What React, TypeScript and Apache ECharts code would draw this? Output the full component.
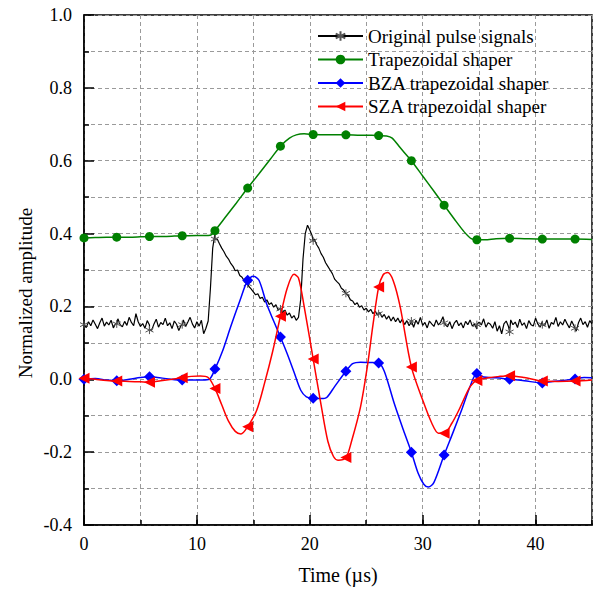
import React, { useEffect, useRef } from "react";
import * as echarts from "echarts";

const FONT = '"Liberation Serif", "Times New Roman", serif';

// Shared marker times (µs)
const markerT = [0, 2.9, 5.8, 8.7, 11.6, 14.5, 17.4, 20.3, 23.2, 26.1, 29.0, 31.9, 34.8, 37.7, 40.6, 43.5];

// Original pulse signal, sampled every signalDt µs from 0 to 45
const signalDt = 0.2;
const signalY = [
  0.150, 0.142, 0.158, 0.147, 0.163, 0.151, 0.139, 0.155, 0.168, 0.146,
  0.157, 0.149, 0.162, 0.141, 0.153, 0.166, 0.150, 0.144, 0.159, 0.148,
  0.170, 0.156, 0.147, 0.180, 0.158, 0.145, 0.153, 0.140, 0.161, 0.149,
  0.135, 0.152, 0.165, 0.143, 0.156, 0.150, 0.168, 0.147, 0.155, 0.139,
  0.160, 0.151, 0.134, 0.148, 0.163, 0.145, 0.157, 0.170, 0.152, 0.141,
  0.158, 0.146, 0.162, 0.125, 0.140,
  0.160, 0.250, 0.360, 0.400, 0.385, 0.372, 0.360, 0.350, 0.338, 0.330,
  0.318, 0.310, 0.298, 0.300, 0.285, 0.280, 0.270, 0.265, 0.255, 0.248,
  0.240, 0.232, 0.235, 0.222, 0.225, 0.212, 0.218, 0.205, 0.210, 0.198,
  0.205, 0.190, 0.196, 0.183, 0.190, 0.176, 0.182, 0.168, 0.175, 0.162,
  0.170, 0.220, 0.330, 0.400, 0.423, 0.410, 0.395, 0.385, 0.370, 0.360,
  0.345, 0.335, 0.320, 0.310, 0.300, 0.290, 0.275, 0.268, 0.262, 0.250,
  0.245, 0.236, 0.230, 0.218, 0.215, 0.205, 0.210, 0.198, 0.202, 0.190,
  0.195, 0.185, 0.192, 0.180, 0.187, 0.176, 0.183, 0.170, 0.178, 0.165,
  0.174, 0.160, 0.171, 0.158, 0.168, 0.155,
  0.165, 0.150, 0.161, 0.147, 0.158, 0.143, 0.162, 0.151, 0.170, 0.148,
  0.156, 0.141, 0.160, 0.152, 0.145, 0.163, 0.149, 0.157, 0.172, 0.150,
  0.144, 0.158, 0.139, 0.154, 0.162, 0.147, 0.155, 0.141, 0.159, 0.150,
  0.163, 0.146, 0.152, 0.138, 0.157, 0.149, 0.166, 0.143, 0.155, 0.151,
  0.140, 0.158, 0.132, 0.147, 0.125, 0.152, 0.160, 0.145, 0.163, 0.150,
  0.157, 0.142, 0.165, 0.148, 0.155, 0.139, 0.161, 0.150, 0.146, 0.168,
  0.152, 0.143, 0.159, 0.147, 0.163, 0.140, 0.156, 0.151, 0.170, 0.145,
  0.158, 0.149, 0.165, 0.152, 0.141, 0.160, 0.147, 0.132, 0.155, 0.168,
  0.150, 0.158, 0.143, 0.161, 0.152,
];
const signalMarkerY = [0.150, 0.152, 0.135, 0.150, 0.385, 0.262, 0.193, 0.380, 0.236, 0.180, 0.160, 0.155, 0.150, 0.130, 0.150, 0.140];

// Trapezoidal shaper
const trapT = [1, 2, 4, 5, 7, 8, 10, 11, 11.3, 12.5, 13.5, 15.5, 16.5, 18.2, 18.8, 19.5, 21.5, 22.5, 24.5, 25.5, 26.8, 27.3, 28, 30, 31, 32.8, 33.7, 34.3, 35.5, 36.5, 39, 42, 45];
const trapY = [0.389, 0.390, 0.390, 0.391, 0.392, 0.393, 0.395, 0.395, 0.397, 0.444, 0.484, 0.564, 0.604, 0.662, 0.671, 0.674, 0.671, 0.671, 0.670, 0.670, 0.668, 0.662, 0.636, 0.558, 0.516, 0.440, 0.404, 0.386, 0.383, 0.386, 0.386, 0.385, 0.384];
const trapMarkerY = [0.388, 0.390, 0.392, 0.394, 0.408, 0.525, 0.640, 0.672, 0.671, 0.669, 0.600, 0.478, 0.383, 0.387, 0.385, 0.385];

// BZA trapezoidal shaper
const bzaT = [1, 2, 4, 5, 6.5, 7.5, 9.5, 10.5, 11.1, 12.3, 13, 13.8, 15, 15.5, 16.2, 16.8, 18, 18.6, 19.2, 19.7, 21, 21.5, 22.2, 23.8, 24.5, 25.3, 26.6, 27.5, 28.3, 29.6, 30.1, 30.5, 31, 32.7, 33.5, 34.2, 35.4, 36.5, 39, 41.5, 42.5, 44.3, 45];
const bzaY = [0.002, -0.002, 0.000, 0.005, 0.005, 0.001, -0.002, -0.002, 0.000, 0.080, 0.145, 0.215, 0.283, 0.272, 0.205, 0.160, 0.070, 0.020, -0.030, -0.048, -0.053, -0.050, -0.020, 0.043, 0.047, 0.046, 0.022, -0.068, -0.140, -0.258, -0.288, -0.296, -0.283, -0.145, -0.080, -0.020, 0.006, 0.004, -0.004, -0.006, -0.003, 0.005, 0.004];
const bzaMarkerY = [0.000, -0.004, 0.007, -0.002, 0.028, 0.272, 0.116, -0.052, 0.022, 0.045, -0.200, -0.208, 0.016, 0.000, -0.010, 0.001];

// SZA trapezoidal shaper
const szaT = [1, 2, 4, 5, 6.8, 7.8, 9.5, 10.3, 11.0, 12.2, 12.8, 13.4, 13.9, 15.3, 16, 16.7, 18, 18.6, 19, 19.5, 21, 21.6, 22.1, 22.5, 23.7, 24.5, 25.1, 25.6, 26.5, 26.9, 27.4, 28, 30, 30.8, 31.4, 32.6, 33.2, 34.2, 35.8, 36.8, 39, 42, 45];
const szaY = [0.000, -0.003, -0.006, -0.007, -0.004, 0.000, 0.008, 0.009, 0.005, -0.070, -0.115, -0.143, -0.150, -0.085, -0.010, 0.075, 0.250, 0.288, 0.278, 0.200, -0.070, -0.170, -0.212, -0.222, -0.170, -0.075, 0.035, 0.150, 0.287, 0.293, 0.270, 0.200, -0.057, -0.120, -0.148, -0.120, -0.085, -0.020, 0.004, 0.008, 0.005, -0.006, -0.002];
const szaMarkerY = [0.003, -0.005, -0.008, 0.004, -0.025, -0.130, 0.173, 0.056, -0.215, 0.253, 0.034, -0.148, -0.003, 0.010, -0.005, -0.005];

const seriesNames = ["Original pulse signals", "Trapezoidal shaper", "BZA trapezoidal shaper", "SZA trapezoidal shaper"];

function merge(curveT: number[], curveY: number[], markT: number[], markY: number[]) {
  const pts: any[] = curveT.map((t, i) => ({ value: [t, curveY[i]], symbol: "none" }));
  markT.forEach((t, i) => pts.push({ value: [t, markY[i]] }));
  pts.sort((a, b) => a.value[0] - b.value[0]);
  return pts;
}

const ASTERISK = "path://M5,0L5,10M0.67,2.5L9.33,7.5M0.67,7.5L9.33,2.5";

export default function App() {
  const ref = useRef<HTMLDivElement>(null);
  useEffect(() => {
    if (!ref.current) return;
    const chart = echarts.init(ref.current, null, { renderer: "svg" });
    const signalT = signalY.map((_, i) => +(i * signalDt).toFixed(2));
    const dash = { type: [4, 3] as any, color: "#9a9a9a", width: 1 };
    const axisText = { fontFamily: FONT, fontSize: 18, color: "#000" };
    const option: any = {
      animation: false,
      backgroundColor: "#fff",
      textStyle: { fontFamily: FONT },
      grid: { left: 84, right: 6, top: 15, bottom: 65, show: true, borderColor: "#000", borderWidth: 1.5, backgroundColor: "transparent" },
      legend: {
        orient: "vertical",
        left: 317,
        top: 26,
        padding: 0,
        itemWidth: 45,
        itemHeight: 12,
        itemGap: 3.5,
        data: seriesNames,
        textStyle: { fontFamily: FONT, fontSize: 19, lineHeight: 20, color: "#000" },
      },
      xAxis: [
        {
          type: "value", min: 0, max: 45, interval: 5, position: "bottom",
          axisLine: { onZero: false, lineStyle: { color: "#000", width: 1.5 } },
          axisTick: { inside: true, length: 5, lineStyle: { color: "#000", width: 1.5 } },
          axisLabel: { show: false },
          splitLine: { show: true, lineStyle: dash },
        },
        {
          type: "value", min: 0, max: 45, interval: 10, position: "bottom",
          axisLine: { show: false, onZero: false },
          axisTick: { inside: true, length: 10, lineStyle: { color: "#000", width: 1.5 } },
          axisLabel: { ...axisText, margin: 10, showMaxLabel: false },
          splitLine: { show: false },
          name: "Time (µs)", nameLocation: "middle", nameGap: 40,
          nameTextStyle: { fontFamily: FONT, fontSize: 20, color: "#000" },
        },
      ],
      yAxis: {
        type: "value", min: -0.4, max: 1.0, interval: 0.2,
        axisLine: { onZero: false, lineStyle: { color: "#000", width: 1.5 } },
        axisTick: { inside: true, length: 10, lineStyle: { color: "#000", width: 1.5 } },
        minorTick: { show: true, splitNumber: 2, length: 5, lineStyle: { color: "#000", width: 1.5 } },
        splitLine: { show: true, lineStyle: dash },
        minorSplitLine: { show: true, lineStyle: dash },
        axisLabel: { ...axisText, margin: 12, formatter: (v: number) => v.toFixed(1) },
      },
      graphic: [
        {
          type: "text", x: 25, y: 293, rotation: Math.PI / 2,
          style: { text: "Normalized amplitude", fontFamily: FONT, fontSize: 19, fill: "#000", align: "center", verticalAlign: "middle" },
        },
      ],
      series: [
        {
          name: seriesNames[0], type: "line", xAxisIndex: 0,
          data: merge(signalT, signalY, markerT, signalMarkerY),
          symbol: ASTERISK, symbolSize: 8, showSymbol: true,
          lineStyle: { color: "#000", width: 1.2 },
          itemStyle: { color: "#555", borderColor: "#555", borderWidth: 1 },
          z: 2,
        },
        {
          name: seriesNames[1], type: "line", xAxisIndex: 0, smooth: 0.3,
          data: merge(trapT, trapY, markerT, trapMarkerY),
          symbol: "circle", symbolSize: 9, showSymbol: true,
          lineStyle: { color: "#008000", width: 1.5 },
          itemStyle: { color: "#008000" },
          z: 3,
        },
        {
          name: seriesNames[2], type: "line", xAxisIndex: 0, smooth: 0.3,
          data: merge(bzaT, bzaY, markerT, bzaMarkerY),
          symbol: "diamond", symbolSize: 11, showSymbol: true,
          lineStyle: { color: "#0000ff", width: 1.5 },
          itemStyle: { color: "#0000ff" },
          z: 4,
        },
        {
          name: seriesNames[3], type: "line", xAxisIndex: 0, smooth: 0.3,
          data: merge(szaT, szaY, markerT, szaMarkerY),
          symbol: "triangle", symbolRotate: 90, symbolSize: 11, showSymbol: true,
          lineStyle: { color: "#ff0000", width: 1.5 },
          itemStyle: { color: "#ff0000" },
          z: 5,
        },
      ],
    };
    chart.setOption(option);
    return () => chart.dispose();
  }, []);
  return <div ref={ref} style={{ position: "fixed", left: 0, top: 0, width: 598, height: 590 }} />;
}
